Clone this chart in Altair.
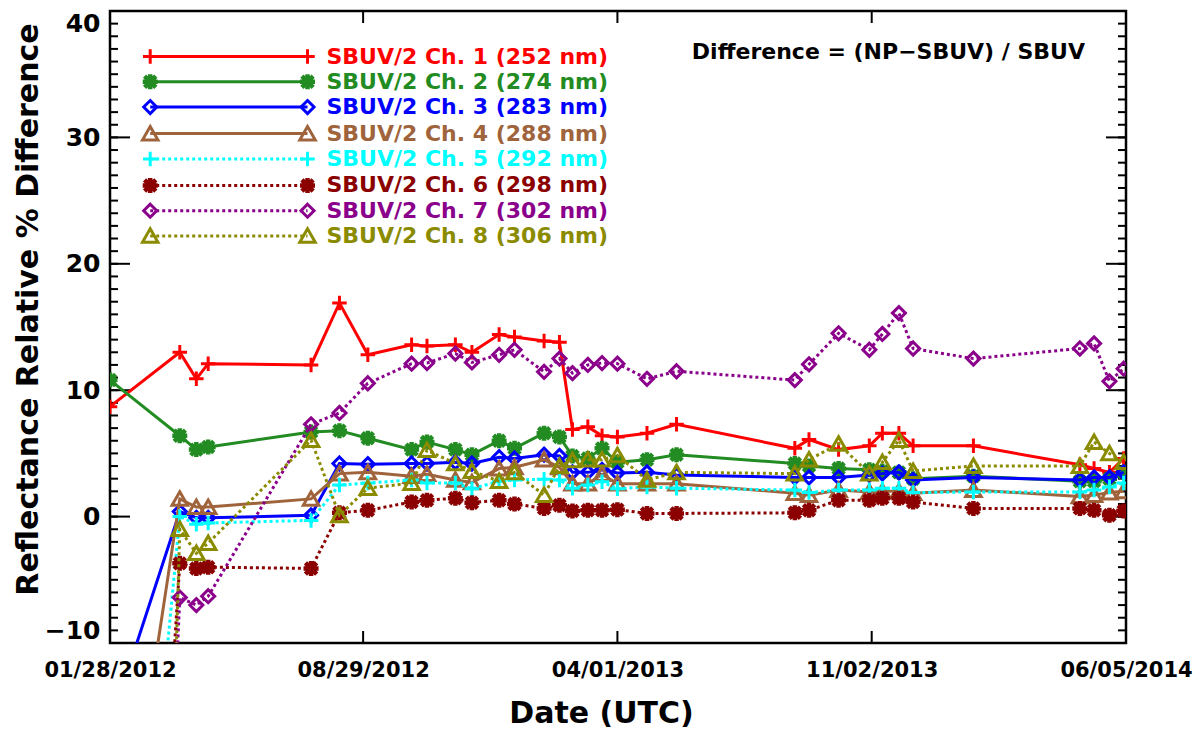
import altair as alt
import pandas as pd

# Collocation dates (UTC)
dates = [
    "2012-01-28", "2012-03-27", "2012-04-10", "2012-04-20", "2012-07-16",
    "2012-08-09", "2012-09-02", "2012-10-09", "2012-10-22", "2012-11-15",
    "2012-11-29", "2012-12-22", "2013-01-04", "2013-01-29", "2013-02-11",
    "2013-02-22", "2013-03-07", "2013-03-19", "2013-04-01", "2013-04-26",
    "2013-05-21", "2013-08-29", "2013-09-10", "2013-10-05", "2013-10-31",
    "2013-11-11", "2013-11-25", "2013-12-07", "2014-01-27", "2014-04-27",
    "2014-05-09", "2014-05-22", "2014-06-03",
]

# Reflectance relative % difference per SBUV/2 channel
ch1 = [8.7, 13.0, 10.9, 12.1, 12.0, 16.9, 12.8, 13.6, 13.5, 13.6, 13.0, 14.4,
       14.2, 13.9, 13.8, 6.9, 7.1, 6.4, 6.3, 6.6, 7.3, 5.4, 6.1, 5.3, 5.6, 6.6,
       6.6, 5.6, 5.6, 4.1, 3.8, 3.5, 4.6]
ch2 = [10.8, 6.4, 5.3, 5.5, 6.7, 6.8, 6.2, 5.3, 5.9, 5.3, 4.9, 6.0, 5.4, 6.6,
       6.3, 4.8, 4.6, 5.4, 4.3, 4.5, 4.9, 4.2, 4.0, 3.8, 3.7, 3.6, 3.5, 3.0,
       3.2, 2.8, 2.8, 3.0, 3.5]
ch3 = [-16.5, 0.4, -0.1, -0.1, 0.1, 4.2, 4.15, 4.2, 4.2, 4.3, 4.2, 4.7, 4.6,
       4.9, 4.8, 3.5, 3.5, 3.7, 3.45, 3.5, 3.3, 3.1, 3.1, 3.1, 3.3, 3.4, 3.5,
       2.9, 3.1, 2.9, 3.1, 3.1, 3.5]
ch4 = [-35.0, 1.4, 0.75, 0.75, 1.4, 3.4, 3.5, 3.2, 3.35, 2.9, 2.7, 3.8, 3.9,
       4.5, 3.9, 2.6, 2.6, 3.35, 2.6, 2.6, 2.6, 1.85, 1.7, 2.1, 1.95, 2.0, 2.0,
       1.85, 2.1, 1.6, 1.7, 1.9, 2.0]
ch5 = [-58.0, 0.0, -0.6, -0.5, -0.3, 2.5, 2.65, 2.9, 2.65, 2.65, 2.2, 2.8, 2.9,
       2.95, 2.9, 2.25, 2.5, 2.75, 2.2, 2.35, 2.25, 2.1, 1.9, 2.1, 2.1, 2.25,
       2.25, 1.9, 1.95, 1.95, 2.1, 2.35, 2.65]
ch6 = [-90.0, -3.7, -4.1, -4.0, -4.1, 0.3, 0.5, 1.15, 1.3, 1.45, 1.1, 1.3, 1.0,
       0.65, 0.9, 0.45, 0.5, 0.5, 0.55, 0.25, 0.25, 0.3, 0.5, 1.3, 1.3, 1.45,
       1.45, 1.15, 0.65, 0.65, 0.5, 0.1, 0.45]
ch7 = [-130.0, -6.4, -7.0, -6.3, 7.3, 8.2, 10.55, 12.1, 12.15, 12.9, 12.2, 12.8,
       13.2, 11.45, 12.5, 11.35, 12.0, 12.15, 12.1, 10.9, 11.5, 10.8, 12.05,
       14.5, 13.2, 14.45, 16.1, 13.3, 12.5, 13.3, 13.7, 10.7, 11.7]
ch8 = [-190.0, -1.0, -2.9, -2.1, 6.05, 0.1, 2.25, 2.65, 5.25, 4.2, 3.6, 2.8,
       3.5, 1.7, 4.0, 4.45, 4.5, 4.5, 4.85, 2.9, 3.5, 3.4, 4.5, 5.75, 3.4, 4.3,
       6.05, 3.6, 4.0, 4.0, 5.9, 5.0, 4.3]

names = [
    "SBUV/2 Ch. 1 (252 nm)", "SBUV/2 Ch. 2 (274 nm)", "SBUV/2 Ch. 3 (283 nm)",
    "SBUV/2 Ch. 4 (288 nm)", "SBUV/2 Ch. 5 (292 nm)", "SBUV/2 Ch. 6 (298 nm)",
    "SBUV/2 Ch. 7 (302 nm)", "SBUV/2 Ch. 8 (306 nm)",
]
series = [ch1, ch2, ch3, ch4, ch5, ch6, ch7, ch8]
colors = ["#FF0000", "#228B22", "#0000FF", "#A0643C",
          "#00FFFF", "#8B0000", "#8B008B", "#8B8B00"]
dotted = [False, False, False, False, True, True, True, True]

# Marker outlines in the unit square [-1, 1]
PLUS = "M-1,0H1M0,-1V1"
ASTER = "M-1,0H1M0,-1V1M-0.75,-0.75L0.75,0.75M-0.75,0.75L0.75,-0.75"
DIAMOND = "M0,-1L1,0L0,1L-1,0Z"
TRIANGLE = "M-1,0.82L0,-0.92L1,0.82Z"
markers = [(PLUS, 210, 3), (ASTER, 225, 4.5), (DIAMOND, 170, 3), (TRIANGLE, 240, 3),
           (PLUS, 210, 3), (ASTER, 225, 4.5), (DIAMOND, 170, 3), (TRIANGLE, 240, 3)]

# Axis ticks
y_major = [-10, 0, 10, 20, 30, 40]
y_minor = list(range(-10, 41))
x_ticks = ["2012-01-28", "2012-08-29", "2013-04-01", "2013-11-02", "2014-06-05"]

# Key placement (in axis units)
legend_y = [36.4, 34.4, 32.4, 30.3, 28.3, 26.2, 24.2, 22.2]
legend_x = ["2012-03-02", "2012-07-13"]
legend_text_x = "2012-07-29"

note = "Difference = (NP\u2212SBUV) / SBUV"

W, H = 1016, 632
FONT = "DejaVu Sans"


def dt(s):
    y, m, d = (int(p) for p in s.split("-"))
    return alt.DateTime(year=y, month=m, date=d, utc=True)


xscale = alt.Scale(type="utc", domain=[dt("2012-01-28"), dt("2014-06-05")])
yscale = alt.Scale(domain=[-10, 40], nice=False, zero=False)

xaxis = alt.Axis(
    values=[dt(s) for s in x_ticks], format="%m/%d/%Y",
    labelFont=FONT, labelFontWeight="bold", labelFontSize=21, labelColor="black",
    labelBaseline="alphabetic", labelPadding=33, labelFlush=False, labelOverlap=False,
    ticks=False, tickSize=0, domain=False, grid=False,
    title="Date (UTC)", titleFont=FONT, titleFontWeight="bold", titleFontSize=30,
    titleColor="black", titleX=491, titleY=79, titleBaseline="alphabetic",
)
yaxis = alt.Axis(
    values=y_major, format="d",
    labelFont=FONT, labelFontWeight="bold", labelFontSize=25, labelColor="black",
    labelPadding=10, labelFlush=True, labelOverlap=False,
    ticks=False, tickSize=0, domain=False, grid=False,
    title="Reflectance Relative % Difference", titleFont=FONT,
    titleFontWeight="bold", titleFontSize=30, titleColor="black",
    titleX=-82, titleY=298, titleBaseline="middle", titleAlign="center",
)

X = alt.X("date:T", scale=xscale, axis=xaxis)
Y = alt.Y("value:Q", scale=yscale, axis=yaxis)

rows = []
for name, vals in zip(names, series):
    for d, v in zip(dates, vals):
        rows.append({"date": d, "value": v, "channel": name})
df = pd.DataFrame(rows)

key_rows = []
for name, ly in zip(names, legend_y):
    for lx in legend_x:
        key_rows.append({"date": lx, "value": ly, "channel": name})
key_df = pd.DataFrame(key_rows)
label_df = pd.DataFrame({"date": [legend_text_x] * len(names),
                         "value": legend_y, "channel": names})

layers = []

# Inward tick marks on all four sides
ymaj_df = pd.DataFrame({"value": y_major})
ymin_df = pd.DataFrame({"value": y_minor})
xt_df = pd.DataFrame({"date": x_ticks})
tick = dict(color="black", strokeWidth=2)
layers += [
    alt.Chart(ymaj_df).mark_rule(**tick).encode(y=Y, x=alt.value(0), x2=alt.value(20)),
    alt.Chart(ymaj_df).mark_rule(**tick).encode(y=Y, x=alt.value(W - 20), x2=alt.value(W)),
    alt.Chart(ymin_df).mark_rule(**tick).encode(y=Y, x=alt.value(0), x2=alt.value(8)),
    alt.Chart(ymin_df).mark_rule(**tick).encode(y=Y, x=alt.value(W - 8), x2=alt.value(W)),
    alt.Chart(xt_df).mark_rule(**tick).encode(x=X, y=alt.value(H - 12), y2=alt.value(H)),
    alt.Chart(xt_df).mark_rule(**tick).encode(x=X, y=alt.value(0), y2=alt.value(12)),
]

for name, color, dot, (shape, size, sw) in zip(names, colors, dotted, markers):
    line_kw = dict(color=color, strokeWidth=3, clip=True)
    if dot:
        line_kw["strokeDash"] = [3, 3]
    pt_kw = dict(shape=shape, size=size, filled=False, color=color,
                 strokeWidth=sw, opacity=1, clip=True)
    data = alt.Chart(df).transform_filter(alt.datum.channel == name)
    key = alt.Chart(key_df).transform_filter(alt.datum.channel == name)
    layers += [
        data.mark_line(**line_kw).encode(x=X, y=Y),
        data.mark_point(**pt_kw).encode(x=X, y=Y),
        key.mark_line(**line_kw).encode(x=X, y=Y),
        key.mark_point(**pt_kw).encode(x=X, y=Y),
    ]

layers.append(
    alt.Chart(label_df).mark_text(
        align="left", baseline="middle", font=FONT, fontWeight="bold", fontSize=22
    ).encode(
        x=X, y=Y, text="channel:N",
        color=alt.Color("channel:N", scale=alt.Scale(domain=names, range=colors), legend=None),
    )
)

layers.append(
    alt.Chart(pd.DataFrame({"t": [note]})).mark_text(
        align="right", baseline="middle", font=FONT, fontWeight="bold",
        fontSize=22, color="black"
    ).encode(x=alt.value(975), y=alt.value(41), text="t:N")
)

chart = alt.layer(*layers).properties(
    width=W, height=H,
    padding={"left": 110, "top": 11, "right": 71, "bottom": 90},
    autosize=alt.AutoSizeParams(type="none"),
).configure_view(stroke="black", strokeWidth=2.5)

chart.save("out.html", embed_options={"renderer": "svg", "actions": False})
